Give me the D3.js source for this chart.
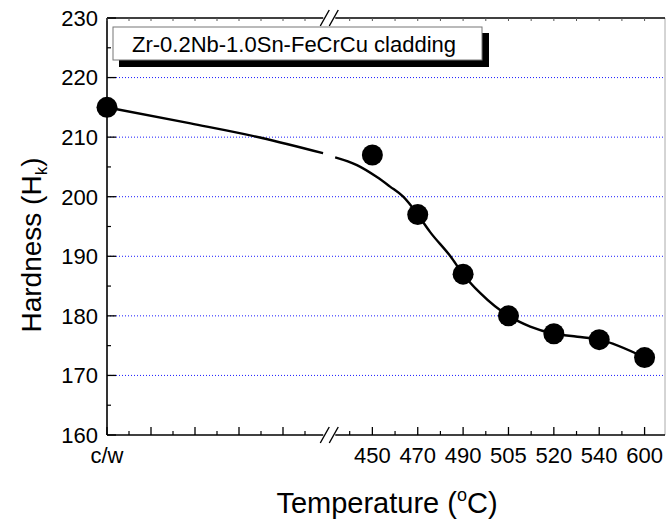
<!DOCTYPE html>
<html>
<head>
<meta charset="utf-8">
<script src="https://cdn.jsdelivr.net/npm/d3@7"></script>
<style>
  html, body { margin: 0; padding: 0; background: #fff; }
  svg { display: block; font-family: "Liberation Sans", Arial, sans-serif; }
</style>
</head>
<body>
<svg id="chart" width="667" height="525"></svg>
<script>
// Annealing temperature categories and their slot on the broken x axis
const categories = ["c/w", "450", "470", "490", "505", "520", "540", "600"];
const slots = [0, 6, 7, 8, 9, 10, 11, 12];
// Measured Knoop hardness
const hardness = [215, 207, 197, 187, 180, 177, 176, 173];

// Fitted trend curve (slot, hardness), split at the axis break
const fitSlotsLeft = [0, 1.9, 3.5, 4.91];
const fitValuesLeft = [215, 212.3, 209.9, 207.3];
const fitSlotsRight = [5.18, 5.66, 6.1, 6.39, 6.68, 7, 7.27, 7.72, 8, 8.38, 9, 9.48, 10, 10.52, 11, 12];
const fitValuesRight = [206.6, 205.3, 203.3, 201.7, 200.0, 197.0, 194.1, 190.0, 187.0, 183.8, 180.0, 178.2, 177.0, 176.5, 176.0, 173.0];

const yTicks = [160, 170, 180, 190, 200, 210, 220, 230];
const yMinorTicks = [165, 175, 185, 195, 205, 215, 225];
const gridValues = [170, 180, 190, 200, 210, 220];
const blankMajorSlots = [1, 2, 3, 4];
const minorSlots = [0.5, 1.5, 2.5, 3.5, 4.5, 5.5, 6.5, 7.5, 8.5, 9.5, 10.5, 11.5];
const breakSlot = 5.05;

const legendLabel = "Zr-0.2Nb-1.0Sn-FeCrCu cladding";

const svg = d3.select("#chart");

const x = d3.scaleLinear().domain([0, 5, 12.45]).range([107, 327, 665]);
const y = d3.scaleLinear().domain([160, 230]).range([435, 18]);

const plotLeft = x.range()[0], plotRight = x.range()[2];
const plotTop = y.range()[1], plotBottom = y.range()[0];
const bx = x(breakSlot);

// Dotted horizontal grid
svg.append("g").selectAll("line").data(gridValues).join("line")
  .attr("x1", plotLeft).attr("x2", plotRight)
  .attr("y1", d => y(d)).attr("y2", d => y(d))
  .attr("stroke", "#1a1aff").attr("stroke-width", 1)
  .attr("stroke-dasharray", "1,2");

// Right frame (light)
svg.append("line")
  .attr("x1", plotRight).attr("x2", plotRight).attr("y1", plotTop).attr("y2", plotBottom)
  .attr("stroke", "#aaa").attr("stroke-width", 1);

// Left axis line + ticks
const axisCol = "#000";
svg.append("line")
  .attr("x1", plotLeft).attr("x2", plotLeft).attr("y1", plotTop).attr("y2", plotBottom)
  .attr("stroke", axisCol).attr("stroke-width", 1.6);

svg.append("g").selectAll("line").data(yTicks).join("line")
  .attr("x1", plotLeft).attr("x2", plotLeft + 9)
  .attr("y1", d => y(d)).attr("y2", d => y(d))
  .attr("stroke", axisCol).attr("stroke-width", 1.3);
svg.append("g").selectAll("line").data(yMinorTicks).join("line")
  .attr("x1", plotLeft).attr("x2", plotLeft + 4)
  .attr("y1", d => y(d)).attr("y2", d => y(d))
  .attr("stroke", axisCol).attr("stroke-width", 1.2);

svg.append("g").selectAll("text").data(yTicks).join("text")
  .attr("x", plotLeft - 9).attr("y", d => y(d))
  .attr("dy", "0.36em")
  .attr("text-anchor", "end")
  .attr("font-size", 22)
  .text(d => d);

// Bottom & top axis lines, interrupted at the break
[plotBottom, plotTop].forEach(yy => {
  svg.append("line").attr("x1", plotLeft).attr("x2", bx - 6).attr("y1", yy).attr("y2", yy)
    .attr("stroke", axisCol).attr("stroke-width", 1.6);
  svg.append("line").attr("x1", bx + 6).attr("x2", plotRight).attr("y1", yy).attr("y2", yy)
    .attr("stroke", axisCol).attr("stroke-width", 1.6);
  // break marks "//"
  [-4.5, 4.5].forEach(off => {
    svg.append("line")
      .attr("x1", bx + off - 4.5).attr("y1", yy + 8)
      .attr("x2", bx + off + 4.5).attr("y2", yy - 8)
      .attr("stroke", axisCol).attr("stroke-width", 1.4);
  });
});

// Bottom ticks (inward)
const majorSlots = blankMajorSlots.concat(slots);
svg.append("g").selectAll("line").data(majorSlots).join("line")
  .attr("x1", d => x(d)).attr("x2", d => x(d))
  .attr("y1", plotBottom).attr("y2", plotBottom - 8)
  .attr("stroke", axisCol).attr("stroke-width", 1.3);
svg.append("g").selectAll("line").data(minorSlots).join("line")
  .attr("x1", d => x(d)).attr("x2", d => x(d))
  .attr("y1", plotBottom).attr("y2", plotBottom - 4)
  .attr("stroke", axisCol).attr("stroke-width", 1.2);
// Top ticks (short, inward)
svg.append("g").selectAll("line").data(majorSlots.concat(minorSlots)).join("line")
  .attr("x1", d => x(d)).attr("x2", d => x(d))
  .attr("y1", plotTop).attr("y2", plotTop + 3)
  .attr("stroke", "#555").attr("stroke-width", 1);

// X tick labels
svg.append("g").selectAll("text").data(categories).join("text")
  .attr("x", (d, i) => x(slots[i])).attr("y", 463)
  .attr("text-anchor", "middle")
  .attr("font-size", 22)
  .text(d => d);

// Fitted curve
const line = d3.line()
  .x(d => x(d[0])).y(d => y(d[1]))
  .curve(d3.curveMonotoneX);
[[fitSlotsLeft, fitValuesLeft], [fitSlotsRight, fitValuesRight]].forEach(([xs, vs]) => {
  svg.append("path")
    .datum(xs.map((s, i) => [s, vs[i]]))
    .attr("d", line)
    .attr("fill", "none").attr("stroke", "#000").attr("stroke-width", 2.4);
});

// Data points
svg.append("g").selectAll("circle").data(hardness).join("circle")
  .attr("cx", (d, i) => x(slots[i])).attr("cy", d => y(d))
  .attr("r", 10.5).attr("fill", "#000");

// Legend box with drop shadow
svg.append("rect").attr("x", 119).attr("y", 33).attr("width", 370).attr("height", 34).attr("fill", "#000");
svg.append("rect").attr("x", 113).attr("y", 27).attr("width", 369).attr("height", 33)
  .attr("fill", "#fff").attr("stroke", "#777").attr("stroke-width", 1);
svg.append("text").attr("x", 132).attr("y", 51.5).attr("font-size", 22).text(legendLabel);

// Axis titles
const xt = svg.append("text").attr("x", 387).attr("y", 513)
  .attr("text-anchor", "middle").attr("font-size", 29);
xt.append("tspan").text("Temperature (");
xt.append("tspan").attr("font-size", 18).attr("dy", -12).text("o");
xt.append("tspan").attr("dy", 12).text("C)");

const yt = svg.append("text")
  .attr("transform", "translate(41,245) rotate(-90)")
  .attr("text-anchor", "middle").attr("font-size", 28);
yt.append("tspan").text("Hardness (H");
yt.append("tspan").attr("font-size", 17).attr("dy", 6).text("k");
yt.append("tspan").attr("dy", -6).text(")");
</script>
</body>
</html>
